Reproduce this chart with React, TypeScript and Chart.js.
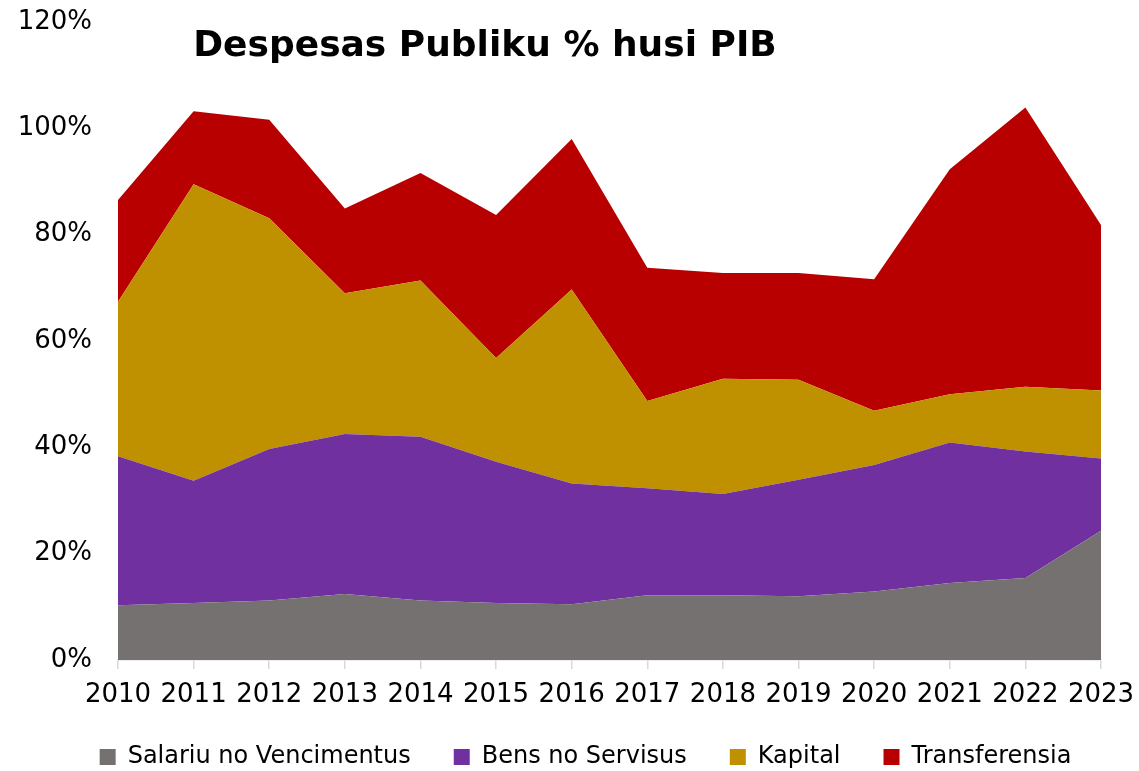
import React, { useEffect, useRef } from "react";
import { Chart, registerables } from "chart.js";

Chart.register(...registerables);

const years = ["2010", "2011", "2012", "2013", "2014", "2015", "2016", "2017", "2018", "2019", "2020", "2021", "2022", "2023"];
const salariu = [10.3, 10.7, 11.2, 12.4, 11.2, 10.7, 10.5, 12.2, 12.2, 12.0, 12.9, 14.5, 15.4, 24.3];
const bens = [28.0, 23.0, 28.5, 30.1, 30.8, 26.6, 22.7, 20.1, 19.0, 21.9, 23.8, 26.4, 23.8, 13.6];
const kapital = [29.1, 55.8, 43.4, 26.5, 29.4, 19.5, 36.5, 16.4, 21.7, 18.8, 10.2, 9.1, 12.2, 12.8];
const transferensia = [19.1, 13.7, 18.5, 15.9, 20.2, 26.9, 28.3, 25.1, 19.9, 20.1, 24.7, 42.3, 52.5, 31.1];

const seriesNames = ["Salariu no Vencimentus", "Bens no Servisus", "Kapital", "Transferensia"];
const seriesColors = ["#767171", "#7030A0", "#BF9000", "#B80000"];
const TITLE = "Despesas Publiku % husi PIB";
const FONT = "'DejaVu Sans', sans-serif";

const titlePlugin = {
  id: "overlayTitle",
  afterLayout(chart: any) {
    const lg = chart.legend;
    if (lg) {
      lg.left += 35;
      lg.right += 35;
      lg.top -= 8;
      lg.bottom -= 8;
    }
  },
  afterDraw(chart: any) {
    const ctx = chart.ctx;
    ctx.save();
    ctx.font = `bold 36px ${FONT}`;
    ctx.fillStyle = "#000";
    ctx.textAlign = "center";
    ctx.textBaseline = "alphabetic";
    ctx.fillText(TITLE, 485, 56);
    ctx.restore();
  },
};

export default function App() {
  const ref = useRef<HTMLCanvasElement>(null);

  useEffect(() => {
    document.body.style.margin = "0";
    const values = [salariu, bens, kapital, transferensia];
    const chart = new Chart(ref.current as HTMLCanvasElement, {
      type: "line",
      data: {
        labels: years,
        datasets: values.map((d, i) => ({
          label: seriesNames[i],
          data: d,
          backgroundColor: seriesColors[i],
          borderColor: seriesColors[i],
          borderWidth: 0,
          pointRadius: 0,
          fill: i === 0 ? "origin" : "-1",
          tension: 0,
        })),
      },
      options: {
        animation: false,
        responsive: true,
        maintainAspectRatio: false,
        layout: { padding: { top: 22, right: 38, left: 0, bottom: -16 } },
        plugins: {
          legend: {
            position: "bottom",
            labels: {
              font: { family: FONT, size: 24 },
              color: "#000",
              boxWidth: 16,
              boxHeight: 16,
              padding: 43,
            },
          },
          title: { display: false },
          tooltip: { enabled: false },
        },
        scales: {
          x: {
            type: "category",
            offset: false,
            grid: {
              display: true,
              drawOnChartArea: false,
              drawTicks: true,
              tickLength: 9,
              color: "#d9d9d9",
              lineWidth: 1.5,
            },
            border: { display: true, color: "#d9d9d9", width: 1.5 },
            ticks: {
              font: { family: FONT, size: 26 },
              color: "#000",
              autoSkip: false,
              maxRotation: 0,
              minRotation: 0,
              padding: 11,
            },
            afterFit: (s: any) => {
              s.height = 50;
              s.paddingLeft = 0;
              s.paddingRight = 0;
            },
          },
          y: {
            stacked: true,
            min: 0,
            max: 120,
            ticks: {
              stepSize: 20,
              callback: (v: any) => v + "%",
              font: { family: FONT, size: 26 },
              color: "#000",
              padding: 26,
            },
            grid: { display: false, drawTicks: false },
            border: { display: false },
            afterFit: (s: any) => {
              s.width = 118;
              s.paddingTop = 0;
              s.paddingBottom = 0;
            },
          },
        },
      },
      plugins: [titlePlugin],
    } as any);
    return () => chart.destroy();
  }, []);

  return (
    <div style={{ position: "relative", width: "1139px", height: "771px" }}>
      <canvas ref={ref} />
    </div>
  );
}
